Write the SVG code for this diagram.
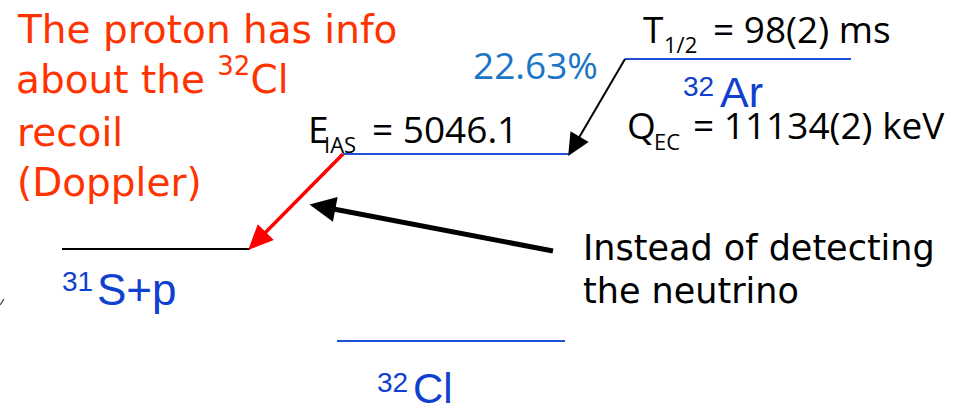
<svg xmlns="http://www.w3.org/2000/svg" width="957" height="409" viewBox="0 0 957 409">
<style>
.note{font-family:"DejaVu Sans","Liberation Sans",sans-serif;}
.red{fill:#FF3300;font-size:39px;}
.blk{fill:#000;font-size:35px;}
.cal{font-family:"Open Sans","Liberation Sans",sans-serif;fill:#000;}
.big{font-size:37px;}
.sub{font-size:22px;}
.nuc{font-family:"Liberation Sans",Arial,sans-serif;fill:#1040D0;}
.lvl{stroke:#2050D8;stroke-width:2;fill:none;}
.lvlk{stroke:#000;stroke-width:2;fill:none;}
</style>
<defs>
<marker id="ahThick" markerUnits="userSpaceOnUse" markerWidth="30" markerHeight="30" refX="10" refY="0" orient="auto" viewBox="0 -12 22 24" overflow="visible">
<path d="M0,-10 L21,0 L0,10 z" fill="#000"/>
</marker>
<marker id="ahRed" markerUnits="userSpaceOnUse" markerWidth="30" markerHeight="30" refX="10" refY="0" orient="auto" viewBox="0 -12 22 24" overflow="visible">
<path d="M0,-9 L20,0 L0,9 z" fill="#FF0000"/>
</marker>
<marker id="ahThin" markerUnits="userSpaceOnUse" markerWidth="30" markerHeight="30" refX="8" refY="0" orient="auto" viewBox="0 -10 18 20" overflow="visible">
<path d="M0,-7 L15,0 L0,7 z" fill="#000"/>
</marker>
</defs>
<g id="note-proton">
<text class="note red" x="18" y="43">The proton has info</text>
<text class="note red" x="16" y="93">about the <tspan font-size="26" y="75">32</tspan><tspan y="93">Cl</tspan></text>
<text class="note red" x="17" y="146">recoil</text>
<text class="note red" x="17" y="196">(Doppler)</text>
</g>
<g id="note-neutrino">
<text class="note blk" x="583" y="260">Instead of detecting</text>
<text class="note blk" x="583" y="303">the neutrino</text>
</g>
<g id="level-32Ar">
<line class="lvl" x1="625" y1="59" x2="851" y2="59"/>
<text class="cal big" x="643" y="43">T</text>
<text class="cal sub" x="664" y="53">1/2</text>
<text class="cal big" x="713" y="43">= 98(2) ms</text>
<text class="nuc" x="683" y="96" font-size="28">32</text>
<text class="nuc" x="720" y="107" font-size="43">Ar</text>
<text class="cal big" x="627" y="139">Q</text>
<text class="cal sub" x="654" y="150">EC</text>
<text class="cal big" x="693" y="139">= 11134(2) keV</text>
</g>
<g id="level-IAS">
<line class="lvl" x1="343" y1="154" x2="570" y2="154"/>
<text class="cal big" x="308" y="143">E</text>
<text class="cal sub" x="324" y="153">IAS</text>
<text class="cal big" x="372" y="143">= 5046.1</text>
</g>
<g id="level-31S-p">
<line class="lvlk" x1="62" y1="249" x2="250" y2="249"/>
<text class="nuc" x="62" y="291" font-size="28">31</text>
<text class="nuc" x="97" y="305" font-size="44">S+p</text>
</g>
<g id="level-32Cl">
<line class="lvl" x1="337" y1="341" x2="565" y2="341" stroke-width="2.5"/>
<text class="nuc" x="377" y="392" font-size="28">32</text>
<text class="nuc" x="413" y="403" font-size="42">Cl</text>
</g>
<g id="connectors">
<text x="473" y="79" font-family="'Open Sans','Liberation Sans',sans-serif" font-size="37" fill="#1A75C4">22.63%</text>
<line x1="625" y1="59" x2="573.5" y2="147" stroke="#000" stroke-width="2" marker-end="url(#ahThin)"/>
<line x1="343" y1="154" x2="257" y2="241" stroke="#FF0000" stroke-width="3.5" marker-end="url(#ahRed)"/>
<line x1="553" y1="251" x2="323" y2="207" stroke="#000" stroke-width="5" marker-end="url(#ahThick)"/>
<path d="M0,305 L4,299" stroke="#333" stroke-width="1.2" fill="none"/>
</g>
</svg>
